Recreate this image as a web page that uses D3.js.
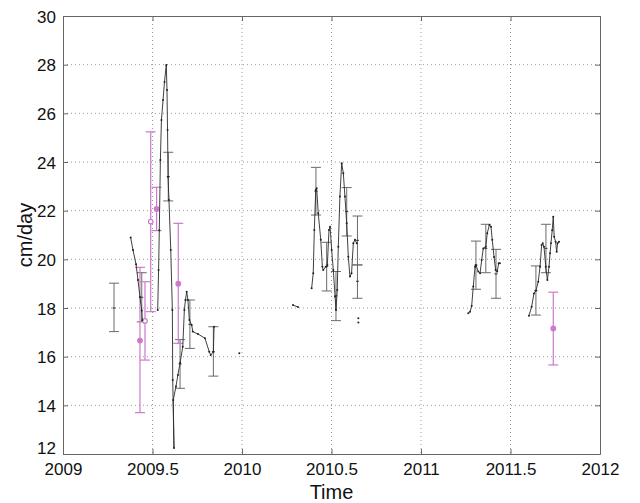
<!DOCTYPE html>
<html><head><meta charset="utf-8">
<script src="https://d3js.org/d3.v7.min.js"></script>
<style>body{margin:0;background:#fff}svg{display:block}</style>
</head><body>
<script>
// ---- data ----
const xTicks = [2009, 2009.5, 2010, 2010.5, 2011, 2011.5, 2012];
const yTicks = [12, 14, 16, 18, 20, 22, 24, 26, 28, 30];

// velocity series (null = gap)
const seriesT = [
  2009.378, 2009.391, 2009.408, 2009.419, 2009.430, 2009.440, 2009.443, null,
  2009.529, 2009.534, 2009.538, 2009.544, 2009.550, 2009.559, 2009.567, 2009.577, 2009.581, 2009.584,
  2009.587, 2009.592, 2009.602, 2009.611, 2009.613, 2009.620, 2009.616, 2009.631, 2009.642, 2009.654,
  2009.669, 2009.678, 2009.684, 2009.691, 2009.698, 2009.706, 2009.719, 2009.725, 2009.754, 2009.793,
  2009.817, 2009.825, 2009.840, 2009.844, null,
  2009.985, null,
  2010.285, 2010.313, null,
  2010.389, 2010.398, 2010.404, 2010.412, 2010.417, 2010.426, 2010.440, 2010.449, 2010.454, 2010.468,
  2010.477, 2010.486, 2010.492, 2010.501, 2010.510, 2010.520, 2010.525, 2010.532, 2010.538, 2010.547,
  2010.557, 2010.566, 2010.575, 2010.585, 2010.594, 2010.603, 2010.612, 2010.622, 2010.631, 2010.641, null,
  2010.650, null, 2010.650, null,
  2011.264, 2011.274, 2011.283, 2011.292, 2011.302, 2011.307, 2011.320, 2011.330, 2011.339, 2011.348,
  2011.362, 2011.370, 2011.382, 2011.391, 2011.398, 2011.408, 2011.417, 2011.426, 2011.434, 2011.441, null,
  2011.603, 2011.618, 2011.631, 2011.642, 2011.655, 2011.665, 2011.674, 2011.680, 2011.687, 2011.697,
  2011.706, 2011.715, 2011.721, 2011.726, 2011.733, 2011.739, 2011.744, 2011.752, 2011.758, 2011.763, 2011.771
];
const seriesV = [
  20.90, 20.38, 19.80, 19.15, 18.45, 17.90, 17.50, null,
  17.92, 19.56, 21.20, 24.08, 25.73, 26.55, 27.29, 27.99, 26.96, 25.32,
  23.38, 22.44, 20.38, 17.92, 15.04, 12.25, 14.22, 14.77, 15.25, 15.74,
  16.41, 17.92, 18.33, 18.67, 18.33, 17.51, 17.30, 17.03, 16.93, 16.76,
  16.20, 16.07, 16.20, 17.23, null,
  16.14, null,
  18.12, 18.04, null,
  18.81, 19.43, 21.21, 22.85, 22.92, 21.89, 20.80, 19.70, 19.56, 19.70,
  19.77, 21.21, 21.34, 20.38, 19.56, 18.47, 17.92, 18.74, 20.52, 22.58,
  23.95, 23.54, 22.58, 21.48, 20.11, 19.29, 19.43, 20.66, 20.80, 20.66, null,
  17.58, null, 17.40, null,
  17.78, 17.85, 18.08, 18.88, 19.70, 19.77, 19.50, 19.43, 19.97, 20.45,
  20.52, 21.07, 21.41, 21.34, 20.80, 20.10, 19.56, 19.50, 19.84, 19.84, null,
  17.68, 18.05, 18.60, 18.71, 19.08, 19.70, 20.59, 20.66, 20.52, 19.70,
  19.15, 19.70, 20.25, 20.66, 21.20, 21.75, 20.93, 20.72, 20.31, 20.66, 20.72
];

// grey error bars
const barT   = [2009.285, 2009.440, 2009.588, 2009.654, 2009.709, 2009.840, 2010.413, 2010.473, 2010.525, 2010.585, 2010.645, 2010.645, 2011.307, 2011.362, 2011.419, 2011.642, 2011.698];
const barMid = [18.00, 18.44, 23.40, 15.70, 17.33, 16.20, 22.80, 19.70, 18.50, 21.96, 20.78, 19.10, 19.76, 20.45, 19.40, 18.72, 20.45];
const barLo  = [17.03, 17.43, 22.40, 14.70, 16.34, 15.20, 21.82, 18.70, 17.48, 20.96, 19.77, 18.40, 18.77, 19.45, 18.40, 17.71, 19.45];
const barHi  = [19.02, 19.45, 24.40, 16.70, 18.33, 17.23, 23.78, 20.70, 19.50, 22.95, 21.78, 19.77, 20.75, 21.44, 20.41, 19.73, 21.44];

// pink error bars
const pinkT    = [2009.430, 2009.458, 2009.490, 2009.523, 2009.644, 2011.739];
const pinkMid  = [16.66, 17.47, 21.55, 22.07, 19.00, 17.16];
const pinkLo   = [13.70, 15.86, 17.85, 21.18, 16.55, 15.66];
const pinkHi   = [19.67, 19.08, 25.24, 22.96, 21.48, 18.65];
const pinkFill = [true, false, false, true, true, true];

// ---- drawing ----
const W = 640, H = 503;
const L = 63, R = 600, T = 16, B = 454;
const svg = d3.select("body").append("svg").attr("width", W).attr("height", H)
  .style("font-family", "'Liberation Sans', Arial, Helvetica, sans-serif");

const x = d3.scaleLinear().domain([2009, 2012]).range([L, R]);
const y = d3.scaleLinear().domain([12, 30]).range([B, T]);

const gridCol = "#999", axisCol = "#666";
// grid
const g = svg.append("g");
g.selectAll(".gx").data(xTicks.slice(1, -1)).join("line")
  .attr("x1", d => x(d)).attr("x2", d => x(d)).attr("y1", T).attr("y2", B)
  .attr("stroke", gridCol).attr("stroke-width", 1).attr("stroke-dasharray", "1,3");
g.selectAll(".gy").data(yTicks.slice(1, -1)).join("line")
  .attr("y1", d => y(d)).attr("y2", d => y(d)).attr("x1", L).attr("x2", R)
  .attr("stroke", gridCol).attr("stroke-width", 1).attr("stroke-dasharray", "1,3");

// axes
const fmtX = d => String(d);
const axB = svg.append("g").attr("transform", `translate(0,${B})`)
  .call(d3.axisBottom(x).tickValues(xTicks).tickFormat(fmtX).tickSizeInner(-5).tickSizeOuter(0).tickPadding(9));
const axT = svg.append("g").attr("transform", `translate(0,${T})`)
  .call(d3.axisTop(x).tickValues(xTicks).tickFormat("").tickSizeInner(-5).tickSizeOuter(0));
const axL = svg.append("g").attr("transform", `translate(${L},0)`)
  .call(d3.axisLeft(y).tickValues(yTicks).tickFormat(d => String(d)).tickSizeInner(-5).tickSizeOuter(0).tickPadding(7));
const axR = svg.append("g").attr("transform", `translate(${R},0)`)
  .call(d3.axisRight(y).tickValues(yTicks).tickFormat("").tickSizeInner(-5).tickSizeOuter(0));
[axB, axT, axL, axR].forEach(a => {
  a.select(".domain").attr("stroke", axisCol);
  a.selectAll(".tick line").attr("stroke", axisCol);
  a.selectAll("text").attr("fill", "#111").style("font-size", "17px")
    .style("font-family", "'Liberation Sans', Arial, sans-serif");
});
axB.selectAll("text").attr("dy", "0.71em");
axL.selectAll("text").attr("dy", "0.36em");
axL.selectAll(".tick").filter(d => d === 12).select("text").attr("dy", "-0.05em");

// grey error bars
const capW = 5;
const eb = svg.append("g").attr("stroke", "#6a6a6a").attr("stroke-width", 1).attr("fill", "none");
barT.forEach((t, i) => {
  const cx = x(t);
  eb.append("line").attr("x1", cx).attr("x2", cx).attr("y1", y(barLo[i])).attr("y2", y(barHi[i]));
  eb.append("line").attr("x1", cx - capW).attr("x2", cx + capW).attr("y1", y(barLo[i])).attr("y2", y(barLo[i]));
  eb.append("line").attr("x1", cx - capW).attr("x2", cx + capW).attr("y1", y(barHi[i])).attr("y2", y(barHi[i]));
  eb.append("line").attr("x1", cx - 1.5).attr("x2", cx + 1.5).attr("y1", y(barMid[i])).attr("y2", y(barMid[i])).attr("stroke", "#333");
});

// pink error bars
const pinkCol = "#cc7acc";
const pb = svg.append("g").attr("stroke", pinkCol).attr("stroke-width", 1.2).attr("fill", "none");
pinkT.forEach((t, i) => {
  const cx = x(t);
  pb.append("line").attr("x1", cx).attr("x2", cx).attr("y1", y(pinkLo[i])).attr("y2", y(pinkHi[i]));
  pb.append("line").attr("x1", cx - capW).attr("x2", cx + capW).attr("y1", y(pinkLo[i])).attr("y2", y(pinkLo[i]));
  pb.append("line").attr("x1", cx - capW).attr("x2", cx + capW).attr("y1", y(pinkHi[i])).attr("y2", y(pinkHi[i]));
  pb.append("circle").attr("cx", cx).attr("cy", y(pinkMid[i])).attr("r", 2.3)
    .attr("fill", pinkFill[i] ? pinkCol : "#fff");
});

// velocity line
const pts = seriesT.map((t, i) => ({t, v: seriesV[i]}));
const line = d3.line().defined(d => d.t !== null && d.v !== null).x(d => x(d.t)).y(d => y(d.v));
svg.append("path").datum(pts).attr("d", line).attr("fill", "none")
  .attr("stroke", "#2a2a2a").attr("stroke-width", 0.9);
svg.append("g").selectAll("circle").data(pts.filter(d => d.t !== null)).join("circle")
  .attr("cx", d => x(d.t)).attr("cy", d => y(d.v)).attr("r", 1).attr("fill", "#222");

// labels
svg.append("text").attr("x", (L + R) / 2).attr("y", 499).attr("text-anchor", "middle")
  .style("font-size", "20px").attr("fill", "#111").text("Time");
svg.append("text").attr("transform", `translate(32,${(T + B) / 2}) rotate(-90)`)
  .attr("text-anchor", "middle").style("font-size", "20px").attr("fill", "#111").text("cm/day");
</script>
</body></html>
